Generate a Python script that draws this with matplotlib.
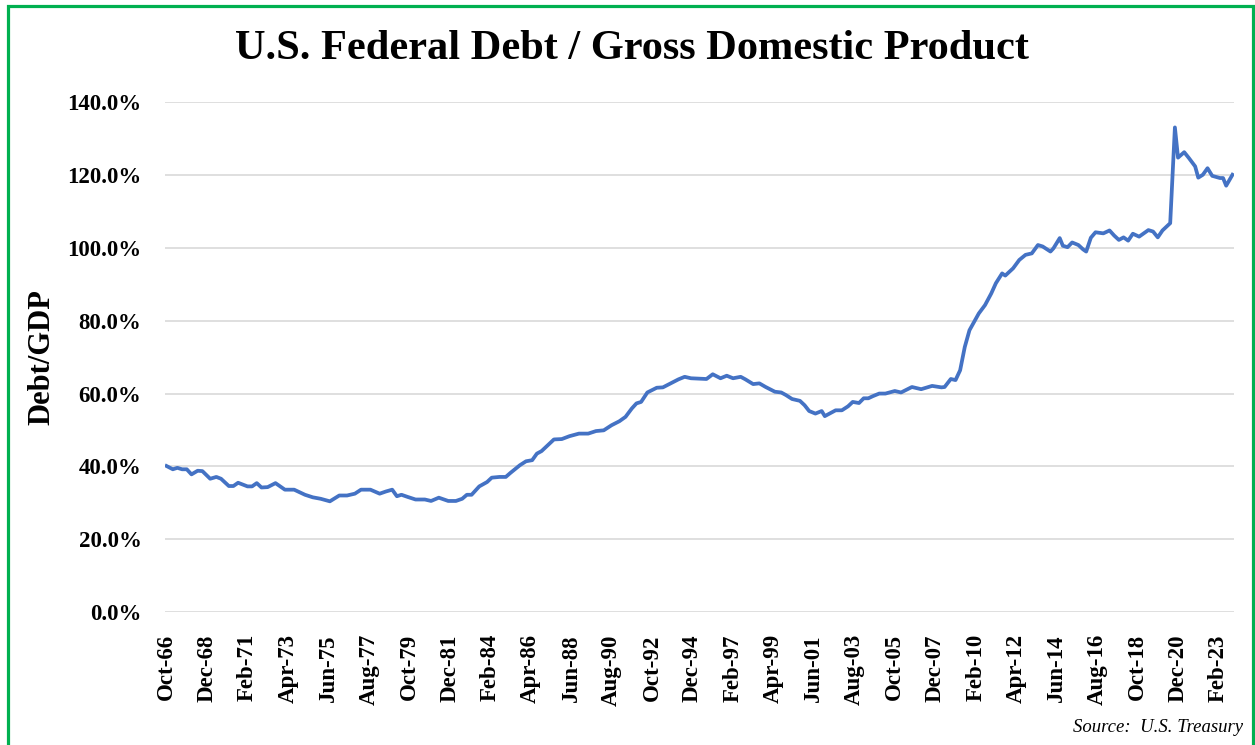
import matplotlib
matplotlib.use("Agg")
import matplotlib.pyplot as plt
from matplotlib.patches import Rectangle
from matplotlib.ticker import FuncFormatter
import pandas as pd

# Debt / GDP (%)
dates = [
    "1966-10", "1967-02", "1967-05", "1967-08", "1967-11", "1968-02", "1968-06", "1968-09",
    "1969-02", "1969-06", "1969-09", "1970-02", "1970-05", "1970-08", "1971-02", "1971-05",
    "1971-08", "1971-11", "1972-03", "1972-08", "1973-02", "1973-08", "1974-03", "1974-08",
    "1975-01", "1975-07", "1976-01", "1976-06", "1976-11", "1977-03", "1977-09", "1978-03",
    "1978-07", "1978-11", "1979-02", "1979-05", "1979-09", "1980-02", "1980-08", "1980-12",
    "1981-05", "1981-11", "1982-04", "1982-08", "1982-11", "1983-02", "1983-07", "1983-12",
    "1984-03", "1984-08", "1984-12", "1985-03", "1985-09", "1986-01", "1986-05", "1986-08",
    "1986-11", "1987-03", "1987-07", "1987-12", "1988-05", "1988-11", "1989-05", "1989-10",
    "1990-03", "1990-08", "1991-01", "1991-05", "1991-09", "1991-12", "1992-03", "1992-07",
    "1993-01", "1993-05", "1993-10", "1994-03", "1994-07", "1994-11", "1995-04", "1995-09",
    "1996-01", "1996-06", "1996-10", "1997-02", "1997-07", "1997-10", "1998-03", "1998-07",
    "1998-11", "1999-05", "1999-09", "1999-12", "2000-04", "2000-09", "2000-12", "2001-03",
    "2001-07", "2001-11", "2002-01", "2002-05", "2002-08", "2002-12", "2003-04", "2003-07",
    "2003-11", "2004-02", "2004-05", "2004-08", "2004-12", "2005-04", "2005-10", "2006-02",
    "2006-09", "2007-03", "2007-10", "2008-04", "2008-06", "2008-10", "2009-01", "2009-04",
    "2009-07", "2009-10", "2010-01", "2010-04", "2010-08", "2010-12", "2011-03", "2011-07",
    "2011-09", "2012-02", "2012-06", "2012-10", "2013-02", "2013-06", "2013-09", "2014-02",
    "2014-04", "2014-08", "2014-10", "2015-01", "2015-04", "2015-08", "2015-11", "2016-01",
    "2016-04", "2016-07", "2016-12", "2017-04", "2017-07", "2017-10", "2018-01", "2018-04",
    "2018-07", "2018-11", "2019-05", "2019-08", "2019-11", "2020-02", "2020-07", "2020-10",
    "2020-12", "2021-04", "2021-07", "2021-11", "2022-01", "2022-04", "2022-07", "2022-10",
    "2023-03", "2023-05", "2023-07", "2023-11",
]
debt_gdp = [
    40.1, 39.2, 39.6, 39.2, 39.2, 37.8, 38.8, 38.7,
    36.6, 37.1, 36.6, 34.6, 34.6, 35.5, 34.5, 34.5,
    35.4, 34.2, 34.3, 35.4, 33.6, 33.6, 32.2, 31.5,
    31.1, 30.4, 32.0, 32.0, 32.5, 33.6, 33.6, 32.5,
    33.1, 33.6, 31.8, 32.2, 31.6, 30.9, 30.9, 30.5,
    31.4, 30.5, 30.5, 31.1, 32.2, 32.2, 34.5, 35.7,
    36.9, 37.1, 37.1, 38.2, 40.3, 41.4, 41.7, 43.5,
    44.2, 45.8, 47.4, 47.5, 48.3, 49.0, 49.0, 49.7,
    49.9, 51.3, 52.4, 53.6, 55.9, 57.3, 57.7, 60.3,
    61.6, 61.7, 62.8, 63.9, 64.6, 64.2, 64.1, 64.0,
    65.3, 64.2, 64.9, 64.2, 64.6, 63.9, 62.6, 62.8,
    61.8, 60.5, 60.3, 59.6, 58.5, 58.0, 56.8, 55.2,
    54.5, 55.2, 53.8, 54.7, 55.4, 55.4, 56.5, 57.7,
    57.4, 58.7, 58.7, 59.3, 60.0, 60.0, 60.7, 60.3,
    61.8, 61.2, 62.1, 61.7, 61.8, 64.0, 63.7, 66.4,
    72.8, 77.4, 79.7, 82.0, 84.3, 87.5, 90.3, 93.0,
    92.4, 94.4, 96.7, 98.1, 98.5, 100.8, 100.4, 99.0,
    99.9, 102.7, 100.6, 100.2, 101.5, 100.8, 99.6, 99.0,
    102.8, 104.3, 104.0, 104.8, 103.4, 102.2, 102.9, 102.0,
    103.9, 103.1, 104.9, 104.5, 102.9, 104.8, 106.8, 133.1,
    124.8, 126.3, 124.7, 122.4, 119.3, 120.1, 121.9, 119.8,
    119.2, 119.2, 117.1, 120.1,
]
tick_labels = ["Oct-66", "Dec-68", "Feb-71", "Apr-73", "Jun-75", "Aug-77", "Oct-79",
               "Dec-81", "Feb-84", "Apr-86", "Jun-88", "Aug-90", "Oct-92", "Dec-94",
               "Feb-97", "Apr-99", "Jun-01", "Aug-03", "Oct-05", "Dec-07", "Feb-10",
               "Apr-12", "Jun-14", "Aug-16", "Oct-18", "Dec-20", "Feb-23"]
y_ticks = [0, 20, 40, 60, 80, 100, 120, 140]

title = "U.S. Federal Debt / Gross Domestic Product"
y_label = "Debt/GDP"
source = "Source:  U.S. Treasury"

serif = ["Liberation Serif", "DejaVu Serif"]
plt.rcParams["font.family"] = serif

x = pd.to_datetime(dates, format="%Y-%m")
tick_dates = pd.to_datetime(tick_labels, format="%b-%y")
tick_dates = [d if d.year < 2030 else d.replace(year=d.year - 100) for d in tick_dates]

fig = plt.figure(figsize=(12.55, 7.45), dpi=100)
ax = fig.add_axes([165 / 1255, 1 - 612 / 745, (1234 - 165) / 1255, (612 - 102.3) / 745])

ax.plot(x, debt_gdp, color="#4472C4", lw=2.7, solid_joinstyle="round", zorder=3)

ax.set_ylim(0, 140)
ax.set_yticks(y_ticks)
ax.yaxis.set_major_formatter(FuncFormatter(lambda v, p: f"{v:.1f}%"))
ax.set_xlim(pd.Timestamp("1966-09-01"), pd.Timestamp("2023-12-01"))
ax.set_xticks(tick_dates)
ax.set_xticklabels(tick_labels, rotation=90)

ax.grid(axis="y", color="#D9D9D9", lw=1.2)
ax.set_axisbelow(True)
for s in ax.spines.values():
    s.set_visible(False)
ax.tick_params(axis="both", length=0, labelsize=16.5)
ax.tick_params(axis="y", pad=17)
ax.tick_params(axis="x", pad=16)
for lab in ax.get_xticklabels() + ax.get_yticklabels():
    lab.set_fontweight("bold")

ax.set_ylabel(y_label, fontsize=22, fontweight="bold")
ax.yaxis.set_label_coords(-0.102, 0.5)

fig.text(632 / 1255, 1 - 49 / 745, title, ha="center", va="center",
         fontsize=30.5, fontweight="bold")
fig.text(1243 / 1255, 1 - 727 / 745, source, ha="right", va="center",
         fontsize=13.5, style="italic")

fig.add_artist(Rectangle((7.5 / 1255, -0.05), (1252.5 - 7.5) / 1255, 1.05 - 5.5 / 745,
                         transform=fig.transFigure, fill=False,
                         edgecolor="#00B050", lw=2.3))

fig.savefig("out.png", dpi=100, facecolor="white")
